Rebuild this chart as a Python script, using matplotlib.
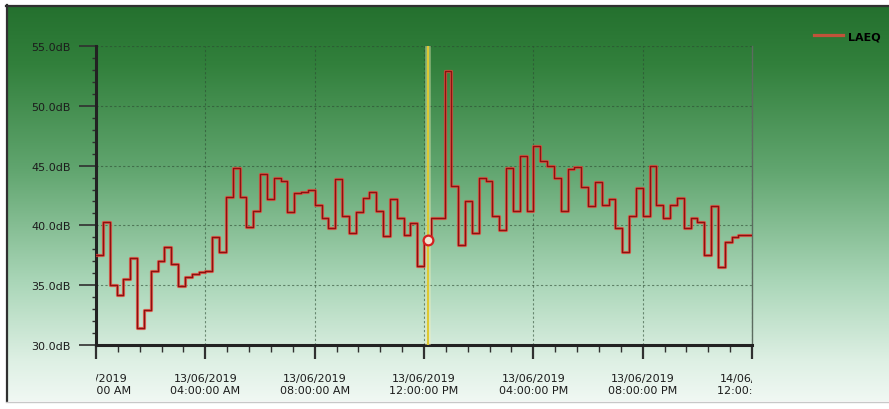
import numpy as np
import pandas as pd
import matplotlib
matplotlib.use("Agg")
import matplotlib.pyplot as plt
import matplotlib.dates as mdates
from matplotlib.patches import Rectangle
from matplotlib.ticker import MultipleLocator

# LAeq, 15 minute intervals starting 13/06/2019 00:00
laeq = [37.5, 40.3, 35.0, 34.2, 35.5, 37.3, 31.4, 32.9, 36.2, 37.0, 38.2, 36.8,
        34.9, 35.7, 35.9, 36.1, 36.2, 39.0, 37.8, 42.4, 44.8, 42.4, 39.9, 41.2,
        44.3, 42.2, 44.0, 43.7, 41.1, 42.7, 42.8, 43.0, 41.7, 40.6, 39.8, 43.9,
        40.8, 39.4, 41.1, 42.3, 42.8, 41.2, 39.1, 42.2, 40.6, 39.2, 40.2, 36.6,
        38.8, 40.6, 40.6, 52.9, 43.3, 38.4, 42.0, 39.4, 44.0, 43.7, 40.8, 39.6,
        44.8, 41.2, 45.8, 41.2, 46.6, 45.4, 45.0, 44.0, 41.2, 44.7, 44.9, 43.2,
        41.6, 43.6, 41.7, 42.2, 39.8, 37.8, 40.8, 43.1, 40.8, 45.0, 41.7, 40.6,
        41.7, 42.3, 39.8, 40.6, 40.3, 37.5, 41.6, 36.5, 38.6, 39.0, 39.2, 39.2]
times = pd.date_range("2019-06-13 00:00", periods=len(laeq), freq="15min")

cursor_time = pd.Timestamp("2019-06-13 12:08")
cursor_index = 48
series_name = "LAEQ"

y_ticks = [30, 35, 40, 45, 50, 55]
x_label_hours = [0, 4, 8, 12, 16, 20, 24]

W, H = 889, 410
fig = plt.figure(figsize=(W / 100, H / 100), dpi=100)
fig.patch.set_facecolor("white")

# green gradient panel behind everything
bg = fig.add_axes([0, 0, 1, 1], zorder=-5)
stops = [0.0, 0.15, 0.42, 0.7, 0.9, 1.0]
cols = np.array([[36, 112, 46], [50, 128, 60], [98, 166, 112],
                 [170, 214, 184], [222, 240, 228], [240, 248, 243]]) / 255
yy = np.linspace(0, 1, 400)
grad = np.stack([np.interp(yy, stops, cols[:, c]) for c in range(3)], axis=1)
img = np.repeat(grad[:, None, :], 10, axis=1)
bg.imshow(img, aspect="auto", extent=[6, W, 402, 6], interpolation="bilinear")
bg.plot([6.5, 6.5], [6, 402], color="#303030", lw=1.6)
bg.plot([6, W], [6.5, 6.5], color="#303030", lw=1.6)
bg.plot([6, W], [402.5, 402.5], color="#c8c8c8", lw=1)
bg.set_xlim(0, W)
bg.set_ylim(H, 0)
bg.axis("off")

ax = fig.add_axes([96 / W, 1 - 346 / H, (752 - 96) / W, (346 - 47) / H])
ax.set_facecolor("none")

t0 = times[0]
edges = list(times) + [t0 + pd.Timedelta(hours=24)]
vals = laeq + [laeq[-1]]
halo, = ax.step(edges, vals, where="post", color="#e84a3c", lw=2.3, alpha=0.8, zorder=3)
ax.step(edges, vals, where="post", color="#8e1010", lw=1.0, zorder=4)

# cursor
ax.axvline(cursor_time, color="#f4f0c0", lw=4, alpha=0.45, zorder=5)
ax.axvline(cursor_time, color="#ddc832", lw=1.5, zorder=6)
ax.plot([cursor_time], [laeq[cursor_index]], "o", ms=7, mfc="#f2e2d2",
        mec="#d42020", mew=1.6, zorder=7)

ax.set_xlim(t0, t0 + pd.Timedelta(hours=23, minutes=46))
ax.set_ylim(30, 55)

ax.set_yticks(y_ticks)
ax.set_yticklabels([f"{v:.1f}dB" for v in y_ticks])
ax.yaxis.set_minor_locator(MultipleLocator(1))
ax.xaxis.set_major_locator(mdates.HourLocator(byhour=[0, 4, 8, 12, 16, 20]))
minor_x = pd.date_range(t0, periods=31, freq="48min")
ax.set_xticks(minor_x, minor=True)
ax.set_xticklabels([])

ax.tick_params(axis="y", which="major", length=12, width=1.2, color="#303030",
               labelsize=8, labelcolor="#1c1c1c", pad=6)
ax.tick_params(axis="y", which="minor", length=3, width=1, color="#303030")
ax.tick_params(axis="x", which="major", length=10, width=1.6, color="#303030")
ax.tick_params(axis="x", which="minor", length=5, width=1, color="#303030")

ax.grid(True, which="major", color="#2c4a32", lw=0.8, ls=(0, (2, 2)), alpha=0.6)

for side in ["left", "bottom"]:
    ax.spines[side].set_color("#222222")
    ax.spines[side].set_linewidth(2.2)
ax.spines["top"].set_visible(False)
ax.spines["right"].set_color("#5c6c60")
ax.spines["right"].set_linewidth(1)

# date labels, clipped to the plot width
clip = Rectangle((0, -1), 1, 3, transform=ax.transAxes)
for h in x_label_hours:
    t = t0 + pd.Timedelta(hours=h)
    txt = ax.text(t, -0.095, t.strftime("%d/%m/%Y\n%I:%M:%S %p"),
                  transform=ax.get_xaxis_transform(), ha="center", va="top",
                  fontsize=8, color="#1c1c1c", linespacing=1.15, clip_on=True)
    txt.set_clip_path(clip)

fig.legend([halo], [series_name], loc="center left", frameon=False,
           bbox_to_anchor=(804 / W, 1 - 37 / H), handlelength=2.6,
           handletextpad=0.5, prop={"size": 8, "weight": "bold"})

fig.savefig("out.png", dpi=100)
